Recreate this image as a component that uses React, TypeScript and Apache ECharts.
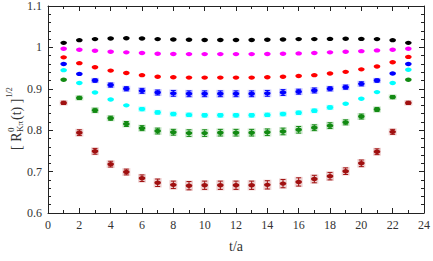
import React, { useEffect, useRef } from "react";
import * as echarts from "echarts";

const tValues = [1,2,3,4,5,6,7,8,9,10,11,12,13,14,15,16,17,18,19,20,21,22,23];

const blackVals = [1.011,1.0175,1.020,1.0215,1.022,1.0215,1.020,1.019,1.0185,1.018,1.018,1.018,1.018,1.0185,1.019,1.020,1.020,1.0205,1.021,1.0205,1.020,1.0175,1.011];
const blackErr = [0.001,0.001,0.001,0.001,0.001,0.001,0.001,0.001,0.001,0.001,0.001,0.001,0.001,0.001,0.001,0.001,0.001,0.001,0.001,0.001,0.001,0.001,0.001];

const magentaVals = [0.9968,0.9944,0.992,0.9896,0.988,0.9863,0.9847,0.984,0.9838,0.9838,0.9838,0.9838,0.9838,0.984,0.9845,0.9855,0.9863,0.988,0.9896,0.991,0.9928,0.9944,0.9968];
const magentaErr = [0.001,0.001,0.001,0.001,0.001,0.001,0.001,0.001,0.001,0.001,0.001,0.001,0.001,0.001,0.001,0.001,0.001,0.001,0.001,0.001,0.001,0.001,0.001];

const redVals = [0.976,0.962,0.952,0.944,0.938,0.933,0.929,0.928,0.927,0.927,0.927,0.927,0.927,0.928,0.929,0.931,0.933,0.937,0.941,0.947,0.954,0.964,0.977];
const redErr = [0.0015,0.0015,0.0015,0.002,0.002,0.002,0.002,0.002,0.002,0.002,0.002,0.002,0.002,0.002,0.002,0.002,0.002,0.002,0.002,0.0015,0.0015,0.0015,0.0015];

const blueVals = [0.960,0.936,0.920,0.909,0.900,0.895,0.891,0.889,0.888,0.888,0.888,0.888,0.888,0.889,0.891,0.893,0.896,0.900,0.904,0.912,0.920,0.937,0.960];
const blueErr = [0.002,0.003,0.004,0.005,0.005,0.006,0.006,0.007,0.007,0.007,0.007,0.007,0.007,0.007,0.007,0.006,0.006,0.005,0.005,0.005,0.004,0.003,0.002];

const cyanVals = [0.945,0.914,0.891,0.874,0.860,0.851,0.843,0.839,0.837,0.836,0.836,0.836,0.836,0.837,0.839,0.842,0.847,0.855,0.864,0.876,0.892,0.914,0.946];
const cyanErr = [0.002,0.002,0.003,0.003,0.003,0.004,0.004,0.004,0.004,0.004,0.004,0.004,0.004,0.004,0.004,0.004,0.004,0.004,0.003,0.003,0.003,0.002,0.002];

const greenVals = [0.922,0.878,0.848,0.829,0.815,0.805,0.798,0.795,0.793,0.793,0.794,0.794,0.794,0.795,0.797,0.801,0.806,0.811,0.819,0.833,0.850,0.880,0.922];
const greenErr = [0.003,0.004,0.005,0.005,0.006,0.006,0.007,0.007,0.008,0.008,0.008,0.008,0.008,0.008,0.008,0.008,0.007,0.007,0.006,0.006,0.005,0.004,0.003];

const darkRedVals = [0.866,0.794,0.749,0.718,0.699,0.684,0.673,0.668,0.666,0.667,0.667,0.667,0.667,0.668,0.671,0.675,0.682,0.689,0.701,0.720,0.748,0.796,0.866];
const darkRedErr = [0.004,0.007,0.007,0.007,0.007,0.008,0.009,0.009,0.010,0.010,0.010,0.010,0.010,0.010,0.010,0.010,0.009,0.009,0.008,0.008,0.007,0.006,0.004];

const xTicks = { min: 0, max: 24, interval: 2 };
const yTicks = { min: 0.6, max: 1.1, interval: 0.1 };

const seriesDefs = [
  { name: "black", color: "#000000", vals: blackVals, err: blackErr },
  { name: "magenta", color: "#ff00ff", vals: magentaVals, err: magentaErr },
  { name: "red", color: "#ff0000", vals: redVals, err: redErr },
  { name: "blue", color: "#0000ff", vals: blueVals, err: blueErr },
  { name: "cyan", color: "#00ffff", vals: cyanVals, err: cyanErr },
  { name: "green", color: "#128a12", vals: greenVals, err: greenErr },
  { name: "darkred", color: "#a01010", vals: darkRedVals, err: darkRedErr },
];

const FONT = "'Liberation Serif', 'DejaVu Serif', serif";

export default function App() {
  const ref = useRef<HTMLDivElement>(null);
  useEffect(() => {
    if (!ref.current) return;
    const chart = echarts.init(ref.current, undefined, { renderer: "svg" });

    const axisCommon = {
      type: "value" as const,
      axisLine: { show: true, onZero: false, lineStyle: { color: "#222", width: 1 } },
      axisTick: { show: true, inside: true, length: 5, lineStyle: { color: "#222" } },
      splitLine: { show: false },
    };

    const series = seriesDefs.map((s) => ({
      type: "custom",
      name: s.name,
      xAxisIndex: 0,
      yAxisIndex: 0,
      data: tValues.map((t, i) => [t, s.vals[i], s.err[i]]),
      encode: { x: 0, y: 1 },
      renderItem: (params: any, api: any) => {
        const x = api.value(0);
        const y = api.value(1);
        const e = api.value(2);
        const c = api.coord([x, y]);
        const hi = api.coord([x, y + e]);
        const lo = api.coord([x, y - e]);
        const children: any[] = [];
        if (lo[1] - hi[1] > 3) {
          children.push({
            type: "rect",
            shape: { x: c[0] - 4, y: hi[1] - 1, width: 8, height: lo[1] - hi[1] + 2 },
            style: { fill: s.color, opacity: 0.18 },
          });
          children.push({
            type: "line",
            shape: { x1: c[0], y1: hi[1], x2: c[0], y2: lo[1] },
            style: { stroke: s.color, lineWidth: 1 },
          });
          children.push({
            type: "line",
            shape: { x1: c[0] - 2.5, y1: hi[1], x2: c[0] + 2.5, y2: hi[1] },
            style: { stroke: s.color, lineWidth: 1 },
          });
          children.push({
            type: "line",
            shape: { x1: c[0] - 2.5, y1: lo[1], x2: c[0] + 2.5, y2: lo[1] },
            style: { stroke: s.color, lineWidth: 1 },
          });
        }
        children.push({
          type: "ellipse",
          shape: { cx: c[0], cy: c[1], rx: 3.3, ry: 2.2 },
          style: { fill: s.color },
        });
        return { type: "group", children };
      },
    }));

    chart.setOption({
      animation: false,
      grid: { left: 48, right: 5, top: 5, bottom: 48, containLabel: false },
      xAxis: [
        {
          ...axisCommon,
          position: "bottom",
          min: xTicks.min,
          max: xTicks.max,
          interval: xTicks.interval,
          minorTick: { show: true, splitNumber: 2, length: 3, lineStyle: { color: "#222" } },
          axisLabel: { show: true, fontFamily: FONT, fontSize: 12, color: "#333", margin: 6 },
          name: "t/a",
          nameLocation: "middle",
          nameGap: 26,
          nameTextStyle: { fontFamily: FONT, fontSize: 14, color: "#333" },
        },
        {
          ...axisCommon,
          position: "top",
          min: xTicks.min,
          max: xTicks.max,
          interval: xTicks.interval,
          minorTick: { show: true, splitNumber: 2, length: 3, lineStyle: { color: "#222" } },
          axisLabel: { show: false },
        },
      ],
      yAxis: [
        {
          ...axisCommon,
          position: "left",
          min: yTicks.min,
          max: yTicks.max,
          interval: yTicks.interval,
          minorTick: { show: true, splitNumber: 5, length: 3, lineStyle: { color: "#222" } },
          axisLabel: {
            show: true,
            fontFamily: FONT,
            fontSize: 12,
            color: "#333",
            margin: 6,
            formatter: (v: number) => String(Math.round(v * 10) / 10),
          },
        },
        {
          ...axisCommon,
          position: "right",
          min: yTicks.min,
          max: yTicks.max,
          interval: yTicks.interval,
          minorTick: { show: true, splitNumber: 5, length: 3, lineStyle: { color: "#222" } },
          axisLabel: { show: false },
        },
      ],
      graphic: [
        {
          type: "group",
          x: 16,
          y: 118,
          rotation: Math.PI / 2,
          children: [
            { type: "text", x: -32, y: 0, style: { text: "[ R", font: `14px ${FONT}`, fill: "#333", textAlign: "left", textVerticalAlign: "middle" } },
            { type: "text", x: -14, y: -5, style: { text: "0", font: `9px ${FONT}`, fill: "#333", textAlign: "left", textVerticalAlign: "middle" } },
            { type: "text", x: -14, y: 4, style: { text: "Kπ", font: `9px ${FONT}`, fill: "#333", textAlign: "left", textVerticalAlign: "middle" } },
            { type: "text", x: -2, y: 0, style: { text: "(t) ]", font: `14px ${FONT}`, fill: "#333", textAlign: "left", textVerticalAlign: "middle" } },
            { type: "text", x: 20.5, y: -7, style: { text: "1/2", font: `8px ${FONT}`, fill: "#333", textAlign: "left", textVerticalAlign: "middle" } },
          ],
        },
      ],
      series,
    });
    return () => chart.dispose();
  }, []);
  return (
    <div
      ref={ref}
      style={{ position: "fixed", left: 0, top: 0, width: 433, height: 261, background: "#fff" }}
    />
  );
}
